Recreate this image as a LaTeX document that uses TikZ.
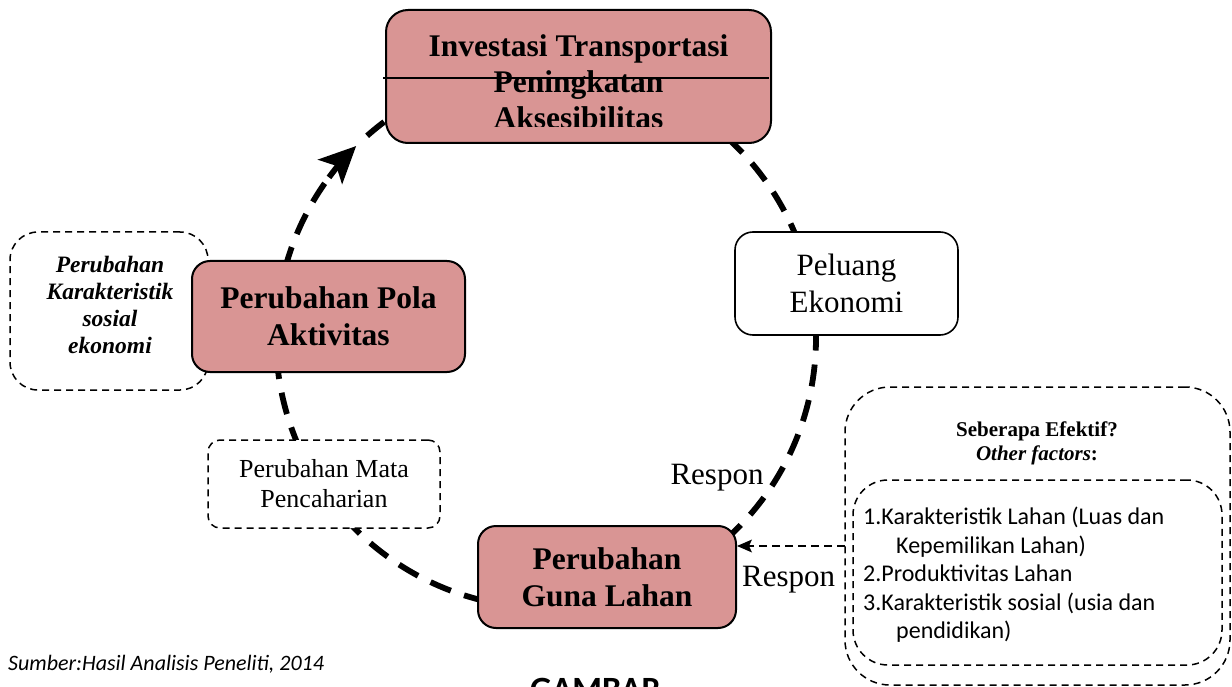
\documentclass[tikz,border=0pt]{standalone}
\usepackage{fontspec}
\setmainfont{Liberation Serif}
\newfontfamily\calibrifont{Carlito}
\usetikzlibrary{arrows.meta}
\definecolor{boxpink}{RGB}{217,149,148}

\begin{document}
\begin{tikzpicture}[x=1pt,y=1pt,
  mainbox/.style={draw=black, line width=2pt, rounded corners=18pt, fill=boxpink,
    align=center, inner sep=0pt, font=\fontsize{31.5}{37}\selectfont\bfseries},
  whitebox/.style={draw=black, line width=1.6pt, rounded corners=18pt, fill=white,
    align=center, inner sep=0pt, font=\fontsize{31}{37}\selectfont},
  dbox/.style={draw=black, line width=1.5pt, dash pattern=on 7pt off 5pt, fill=white,
    align=center, inner sep=0pt},
  ring/.style={line width=5.8pt, dash pattern=on 22pt off 14pt},
  lbl/.style={inner sep=0pt, font=\fontsize{31}{37}\selectfont}
]
\useasboundingbox (0,0) rectangle (1232,-687);
\clip (0,0) rectangle (1232,-687);

% centre of the cycle
\coordinate (c) at (546,-338);

% dashed cycle, clockwise
\draw[ring] (c) ++(48:270)   arc[start angle=48,   end angle=21,    radius=270];
\draw[ring] (c) ++(2:270)    arc[start angle=2,    end angle=-47,   radius=270];
\draw[ring] (c) ++(-103:270) arc[start angle=-103, end angle=-137,  radius=270];
\draw[ring] (c) ++(-156:270) arc[start angle=-156, end angle=-174,  radius=270];
\draw[ring] (c) ++(165:270)  arc[start angle=165,  end angle=142.5, radius=270];
\draw[line width=5.8pt, -{Stealth[length=37pt, width=35pt, inset=9pt, line width=0pt]}]
  (c) ++(143.5:270) arc[start angle=143.5, end angle=134.7, radius=270];
\draw[ring] (c) ++(131.5:270) arc[start angle=131.5, end angle=124, radius=270];

% top box
\node[mainbox, rounded corners=22pt, minimum width=385pt, minimum height=133pt] (inv) at (578.5,-76.5) {};
\begin{scope}
  \clip (388,-12) rectangle (769,-126.5);
  \node[anchor=north, align=center, inner sep=0pt,
        font=\fontsize{31.5}{36}\selectfont\bfseries] (invtxt) at (578.5,-34.5)
    {Investasi Transportasi\\Peningkatan\\Aksesibilitas};
\end{scope}
\draw[line width=1.8pt] (inv.west) ++(-2pt,-1.5pt) -- ++(386pt,0pt);

% side note, behind the activity box
\node[dbox, rounded corners=28pt, minimum width=198pt, minimum height=158pt] (kar) at (109,-311) {};
\node[align=center, inner sep=0pt, font=\fontsize{23.5}{27}\selectfont\bfseries\itshape]
  (kartxt) at (110,-305) {Perubahan\\Karakteristik\\sosial\\ekonomi};

% cycle boxes
\node[whitebox, minimum width=223pt, minimum height=103pt] (pel) at (846.5,-283.5) {Peluang\\Ekonomi};
\node[mainbox, minimum width=258pt, minimum height=102pt] (guna) at (607,-577) {Perubahan\\Guna Lahan};
\node[dbox, rounded corners=12pt, minimum width=232pt, minimum height=88pt,
      font=\fontsize{26}{30}\selectfont] (mata) at (324,-484) {Perubahan Mata\\Pencaharian};
\node[mainbox, minimum width=273pt, minimum height=111pt] (pola) at (328.5,-316.5) {Perubahan Pola\\Aktivitas};

% other factors
\node[dbox, fill=none, rounded corners=45pt, minimum width=385pt, minimum height=298pt] (outer) at (1037.5,-536) {};
\node[dbox, fill=none, rounded corners=35pt, minimum width=369pt, minimum height=185pt] (inner) at (1037.5,-572.5) {};
\node[anchor=base, inner sep=0pt, font=\fontsize{21}{25}\selectfont\bfseries] (q1) at (1037,-436) {Seberapa Efektif?};
\node[anchor=base, inner sep=0pt, font=\fontsize{21}{25}\selectfont\bfseries] (q2) at (1037,-460) {\textit{Other factors}:};
\node[anchor=north west, align=left, inner sep=0pt, font=\calibrifont\fontsize{24}{28.5}\selectfont] (list) at (863,-507)
  {1.Karakteristik Lahan (Luas dan\\\hspace*{33pt}Kepemilikan Lahan)\\2.Produktivitas Lahan\\3.Karakteristik sosial (usia dan\\\hspace*{33pt}pendidikan)};

% response arrow and labels
\coordinate (respsrc) at (845,-546);
\draw[line width=1.5pt, dash pattern=on 8pt off 5pt, -{Stealth[length=15pt, width=13pt, inset=3pt, line width=0pt]}]
  (respsrc) -- (guna.east |- respsrc);
\node[lbl, anchor=base] (resp1) at (717,-484) {Respon};
\node[lbl, anchor=base west] (resp2) at (742,-586) {Respon};

% source and caption
\node[anchor=base west, inner sep=0pt, font=\calibrifont\itshape\fontsize{22}{26}\selectfont] (src) at (8,-670) {Sumber:Hasil Analisis Peneliti, 2014};
\node[anchor=north west, inner sep=0pt, font=\calibrifont\bfseries\fontsize{34}{38}\selectfont] (gbr) at (530,-678) {GAMBAR};
\end{tikzpicture}
\end{document}
